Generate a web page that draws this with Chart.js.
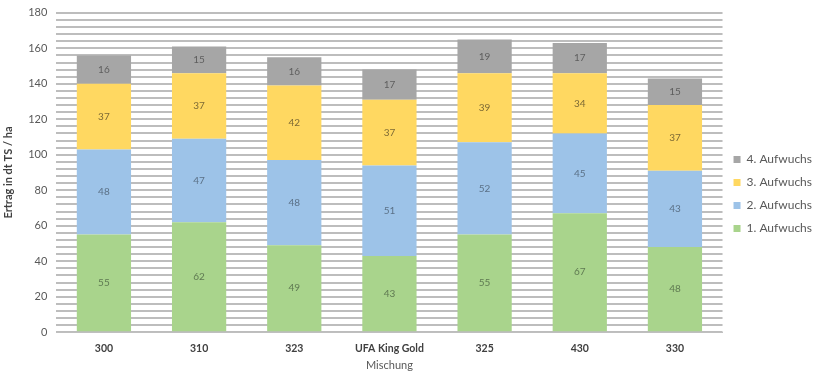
<!DOCTYPE html>
<html>
<head>
<meta charset="utf-8">
<script src="https://cdn.jsdelivr.net/npm/chart.js@4.4.1/dist/chart.umd.min.js"></script>
<style>
  html, body { margin: 0; padding: 0; background: #fff; }
  #wrap { width: 817px; height: 376px; }
</style>
</head>
<body>
<div id="wrap"><canvas id="myChart" width="817" height="376"></canvas></div>
<script>
// categories (Mischung) and yields per cut, dt TS / ha
const mischungen = ['300', '310', '323', 'UFA King Gold', '325', '430', '330'];
const aufwuchs1 = [55, 62, 49, 43, 55, 67, 48];
const aufwuchs2 = [48, 47, 48, 51, 52, 45, 43];
const aufwuchs3 = [37, 37, 42, 37, 39, 34, 37];
const aufwuchs4 = [16, 15, 16, 17, 19, 17, 15];
const seriesNames = ['1. Aufwuchs', '2. Aufwuchs', '3. Aufwuchs', '4. Aufwuchs'];

const fillColors = ['#a9d48c', '#9dc3e8', '#ffd861', '#a6a6a6'];
const labelColors = ['#5f7a52', '#5b7187', '#7d6a35', '#5e5e5e'];
const fontFam = 'Lato, "Open Sans", sans-serif';

// write each segment's value in the middle of its bar
const valueLabels = {
    id: 'valueLabels',
    afterDatasetsDraw(chart) {
        const ctx = chart.ctx;
        ctx.save();
        ctx.font = '10px ' + fontFam;
        ctx.textAlign = 'center';
        ctx.textBaseline = 'middle';
        chart.data.datasets.forEach((ds, i) => {
            const meta = chart.getDatasetMeta(i);
            if (meta.hidden) return;
            meta.data.forEach((bar, j) => {
                const mid = (bar.y + bar.base) / 2;
                ctx.fillStyle = labelColors[i];
                ctx.fillText(ds.data[j], bar.x, mid);
            });
        });
        ctx.restore();
    }
};

// legend sits a little below the middle of the plot
const legendShift = {
    id: 'legendShift',
    afterLayout(chart) {
        chart.legend.top += 8;
        chart.legend.bottom += 8;
    }
};

const datasets = [aufwuchs1, aufwuchs2, aufwuchs3, aufwuchs4].map((d, i) => ({
    label: seriesNames[i],
    data: d,
    backgroundColor: fillColors[i],
    borderWidth: 0,
    barPercentage: 0.57,
    categoryPercentage: 1.0
}));

new Chart('myChart', {
    type: 'bar',
    data: { labels: mischungen, datasets: datasets },
    plugins: [valueLabels, legendShift],
    options: {
        responsive: false,
        animation: false,
        layout: { padding: { top: 0, left: 2, right: -5, bottom: 4 } },
        plugins: {
            tooltip: { enabled: false },
            legend: {
                position: 'right',
                reverse: true,
                labels: {
                    boxWidth: 7,
                    boxHeight: 7,
                    padding: 11,
                    color: '#595959',
                    font: { family: fontFam, size: 12 }
                }
            }
        },
        scales: {
            x: {
                stacked: true,
                grid: { display: false },
                border: { color: '#bfbfbf', width: 1 },
                ticks: {
                    color: '#404040',
                    padding: 2,
                    maxRotation: 0,
                    font: { family: fontFam, size: 10.5, weight: 'bold' }
                },
                title: {
                    display: true,
                    text: 'Mischung',
                    color: '#595959',
                    padding: { top: 2, bottom: 0 },
                    font: { family: fontFam, size: 11 }
                }
            },
            y: {
                stacked: true,
                min: 0,
                max: 180,
                grid: {
                    color: '#bdbdbd',
                    lineWidth: 2,
                    drawTicks: false
                },
                border: { display: false },
                ticks: {
                    stepSize: 4,
                    autoSkip: false,
                    padding: 9,
                    color: '#595959',
                    font: { family: fontFam, size: 11, lineHeight: 0.7 },
                    callback: (v) => (v % 20 === 0 ? v : '')
                },
                title: {
                    display: true,
                    text: 'Ertrag in dt TS / ha',
                    color: '#404040',
                    padding: { top: 0, bottom: 4 },
                    font: { family: fontFam, size: 11, weight: 'bold' }
                }
            }
        }
    }
});
</script>
</body>
</html>
